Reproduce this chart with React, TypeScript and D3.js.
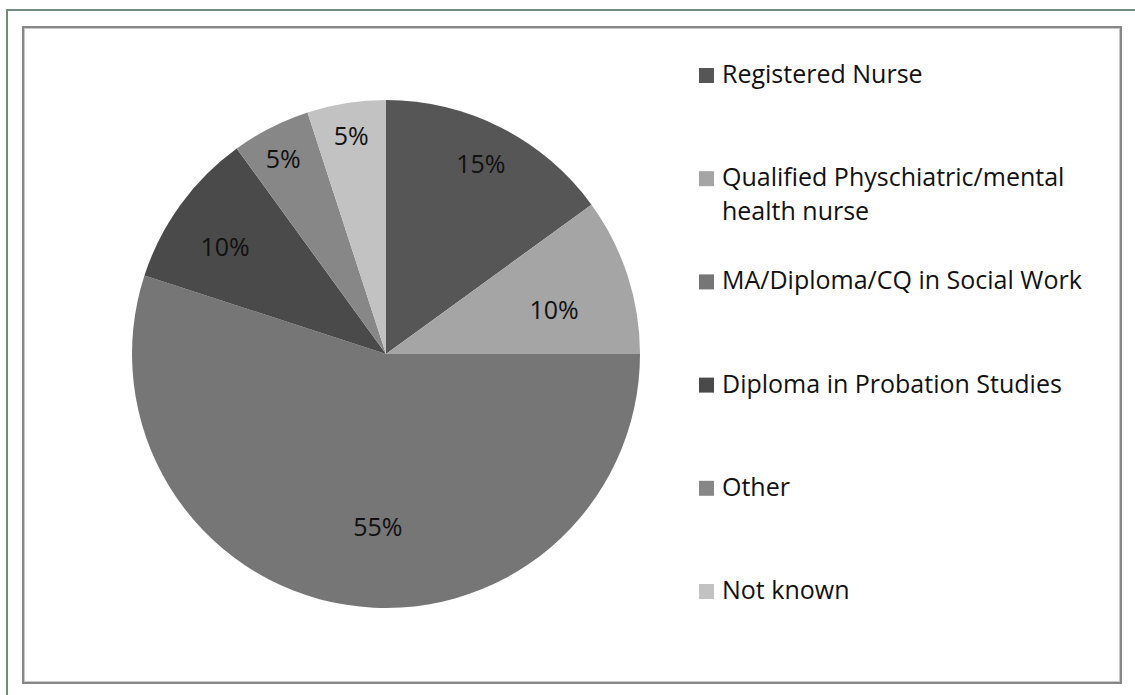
import React from "react";
import * as d3 from "d3";

const categories = [
  "Registered Nurse",
  "Qualified Physchiatric/mental health nurse",
  "MA/Diploma/CQ in Social Work",
  "Diploma in Probation Studies",
  "Other",
  "Not known",
];
const legendLines = [
  ["Registered Nurse"],
  ["Qualified Physchiatric/mental", "health nurse"],
  ["MA/Diploma/CQ in Social Work"],
  ["Diploma in Probation Studies"],
  ["Other"],
  ["Not known"],
];
const values = [15, 10, 55, 10, 5, 5];
const colors = ["#565656", "#a5a5a5", "#767676", "#4a4a4a", "#878787", "#c2c2c2"];

// label placement (Excel "best fit" look): radius factor and angle tweak (deg)
const labelLayout: [number, number][] = [
  [0.84, -0.6],
  [0.685, 3],
  [0.677, -6.3],
  [0.763, -2.1],
  [0.87, -0.7],
  [0.874, 0],
];

const W = 1135;
const H = 695;
const FONT = "'Open Sans', 'Noto Sans', sans-serif";
const FS = 25;

export default function App() {
  const cx = 386;
  const cy = 354;
  const r = 254;
  const total = d3.sum(values);
  const pie = d3
    .pie<number>()
    .sort(null)
    .value((d) => d)
    .startAngle(0)
    .endAngle(2 * Math.PI);
  const arcs = pie(values);
  const arcGen = d3.arc<d3.PieArcDatum<number>>().innerRadius(0).outerRadius(r);
  const fmt = d3.format(".0%");

  const legendX = 699;
  const legendY0 = 83;
  const legendStep = 103.2;
  const sq = 15;
  const lineH = 34;

  return (
    <svg
      width={W}
      height={H}
      style={{ position: "absolute", left: 0, top: 0, background: "#fff" }}
      fontFamily={FONT}
    >
      <rect x={0} y={0} width={W} height={H} fill="#fff" />
      <rect x={7} y={10} width={3000} height={3000} fill="none" stroke="#6f8c7c" strokeWidth={2} />
      <rect x={23} y={27} width={1098} height={656} fill="#fff" stroke="#878787" strokeWidth={2} />
      <rect x={24.5} y={28.5} width={1095} height={653} fill="none" stroke="#c8c8c8" strokeWidth={1} />
      <g transform={`translate(${cx},${cy})`}>
        {arcs.map((a, i) => (
          <path key={i} d={arcGen(a) || ""} fill={colors[i]} />
        ))}
        {arcs.map((a, i) => {
          const [rf, dAng] = labelLayout[i];
          const ang = (a.startAngle + a.endAngle) / 2 + (dAng * Math.PI) / 180;
          const lr = r * rf;
          const x = Math.sin(ang) * lr;
          const y = -Math.cos(ang) * lr;
          return (
            <text
              key={i}
              x={x}
              y={y}
              textAnchor="middle"
              dominantBaseline="central"
              fontSize={FS}
              fill="#111"
            >
              {fmt(values[i] / total)}
            </text>
          );
        })}
      </g>
      <g>
        {categories.map((c, i) => {
          const by = legendY0 + i * legendStep;
          return (
            <g key={c}>
              <rect x={legendX} y={by - sq} width={sq} height={sq} fill={colors[i]} />
              <text x={legendX + 23} y={by} fontSize={FS} fill="#111">
                {legendLines[i].map((l, j) => (
                  <tspan key={j} x={legendX + 23} y={by + j * lineH}>
                    {l}
                  </tspan>
                ))}
              </text>
            </g>
          );
        })}
      </g>
    </svg>
  );
}
